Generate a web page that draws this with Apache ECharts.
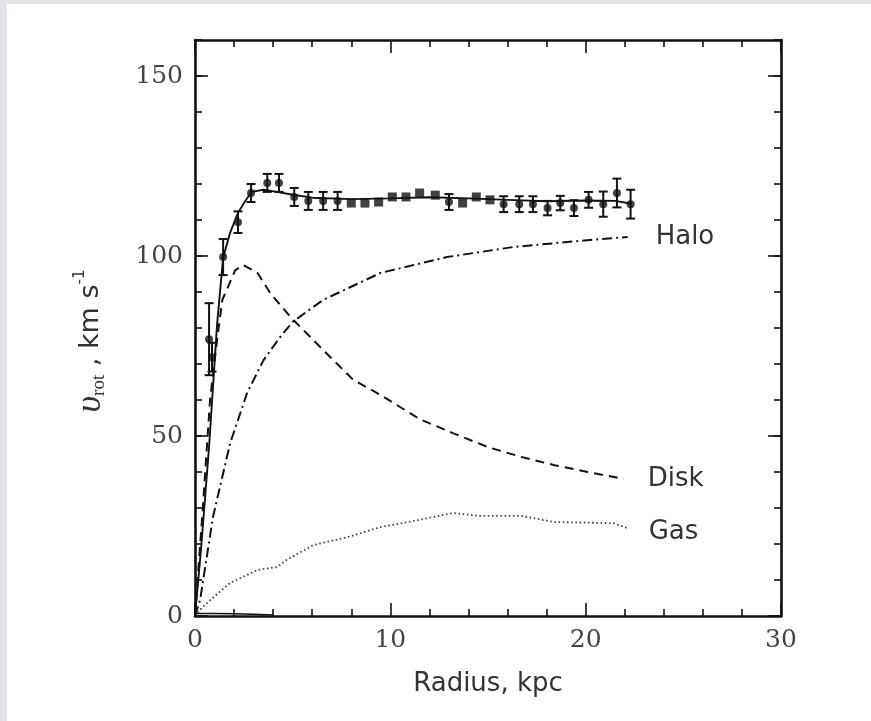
<!DOCTYPE html>
<html>
<head>
<meta charset="utf-8">
<script src="https://cdn.jsdelivr.net/npm/echarts@6/dist/echarts.min.js"></script>
<style>
html,body{margin:0;padding:0;background:#fff;}
#chart{width:871px;height:721px;}
</style>
</head>
<body>
<div id="chart"></div>
<script>
// ---- Data ----
var xTicks = [0, 10, 20, 30];
var yTicks = [0, 50, 100, 150];

// Observed rotation velocities (kpc, km/s, error; null error = square marker)
var obsR   = [0.72, 0.87, 1.44, 2.2, 2.87, 3.7, 4.3, 5.08, 5.8, 6.56, 7.3, 8.0, 8.7, 9.4, 10.1, 10.8, 11.5, 12.3, 13.0, 13.7, 14.4, 15.1, 15.8, 16.6, 17.3, 18.05, 18.7, 19.4, 20.15, 20.9, 21.6, 22.3];
var obsV   = [76.9, 71.9, 99.7, 109.4, 117.5, 120.3, 120.3, 116.4, 115.3, 115.3, 115.3, 114.7, 114.7, 115.0, 116.4, 116.4, 117.5, 116.9, 115.0, 114.7, 116.4, 115.6, 114.4, 114.4, 114.4, 113.3, 114.7, 113.3, 115.6, 114.4, 117.5, 114.4];
var obsErr = [10, 4, 5, 3, 2.5, 2.5, 2.5, 2.5, 2.5, 2.5, 2.5, null, null, null, null, null, null, null, 2.2, null, null, null, 2.2, 2.2, 2.2, 2, 2, 2.2, 2.2, 3.5, 4, 4];

// Model fit (solid)
var fitR = [0, 0.3, 0.72, 1.13, 1.44, 1.8, 2.2, 2.6, 2.9, 3.5, 4.2, 5.0, 6, 8, 10, 12, 14, 16, 18, 20, 21.5, 22.3];
var fitV = [0, 18, 47, 81, 99.5, 106.5, 112, 115.5, 117.8, 118.4, 117.8, 117, 116.2, 115.8, 116, 116.3, 116, 115.6, 115.2, 115.4, 115.3, 114.6];

// Disk (dashed)
var diskR = [0, 0.4, 0.77, 1.13, 1.4, 2.05, 2.46, 3.2, 3.85, 4.9, 6.56, 8.1, 9.5, 11.5, 13.2, 15.0, 16.7, 18.4, 20.1, 21.95];
var diskV = [0, 30, 60, 76.7, 87.8, 96, 97.5, 95.3, 89.7, 83, 73.9, 65.6, 61.4, 54.7, 50.8, 46.9, 44.2, 41.9, 40, 38.1];

// Halo (dash-dot)
var haloR = [0, 0.26, 0.92, 1.8, 2.67, 3.5, 4.36, 5.0, 6.56, 9.5, 12.9, 16.3, 19.7, 22.15];
var haloV = [0, 4.4, 27.5, 48, 62, 71, 77.5, 81.7, 87.8, 95.3, 99.7, 102.5, 104.2, 105.3];

// Gas (dotted)
var gasR = [0, 0.26, 0.77, 1.8, 3.2, 4.2, 4.7, 6.05, 7.8, 9.5, 11.2, 13.2, 14.6, 16.7, 18.4, 21.4, 22.15];
var gasV = [0, 1.7, 4.4, 9.2, 12.8, 13.6, 15.6, 19.7, 21.9, 24.7, 26.4, 28.6, 27.8, 27.8, 26.1, 25.8, 24.4];

// Near-zero component along the baseline
var bulgeR = [0, 1, 2, 3, 4];
var bulgeV = [0.7, 0.7, 0.6, 0.5, 0.3];

// ---- Build series data ----
function pairs(xs, ys){ return xs.map(function(x,i){ return [x, ys[i]]; }); }
var circles = [], squares = [], errs = [];
obsR.forEach(function(r, i){
  if (obsErr[i] == null) { squares.push([r, obsV[i]]); }
  else { circles.push([r, obsV[i]]); errs.push([r, obsV[i] - obsErr[i], obsV[i] + obsErr[i]]); }
});

var ink = '#111';
var textCol = '#333';
var tickFont = 'DejaVu Serif';

var chart = echarts.init(document.getElementById('chart'), null, {renderer: 'canvas'});

function yAxisBase(pos, major, labels){
  return {
    type: 'value', position: pos, min: 0, max: 160,
    interval: major ? 50 : 10,
    axisLine: { show: major, onZero: false, lineStyle: { color: ink, width: 2.6 } },
    axisTick: { show: true, inside: true, length: major ? 13 : 7,
                customValues: major ? yTicks : undefined,
                lineStyle: { color: ink, width: 1.6 } },
    axisLabel: labels ? { show: true, customValues: yTicks, margin: 12,
                fontFamily: tickFont, fontSize: 25, color: '#444' } : { show: false },
    splitLine: { show: false }
  };
}
function xAxisBase(pos, labels){
  return {
    type: 'value', position: pos, min: 0, max: 30, interval: 10,
    axisLine: { show: true, onZero: false, lineStyle: { color: ink, width: 2.6 } },
    axisTick: { show: true, inside: true, length: 13, lineStyle: { color: ink, width: 1.6 } },
    minorTick: { show: true, splitNumber: 5, length: 7, lineStyle: { color: ink, width: 1.6 } },
    axisLabel: labels ? { show: true, customValues: xTicks, margin: 12, fontFamily: tickFont, fontSize: 25, color: '#444' } : { show: false },
    splitLine: { show: false }
  };
}

var xBottom = xAxisBase('bottom', true);
xBottom.name = 'Radius, kpc';
xBottom.nameLocation = 'middle';
xBottom.nameGap = 55;
xBottom.nameTextStyle = { fontFamily: 'DejaVu Sans', fontSize: 26, color: textCol };

var yLeft = yAxisBase('left', true, true);
yLeft.name = '{u|υ}{sub|rot}{t| , km s}{sup|-1}';
yLeft.nameLocation = 'middle';
yLeft.nameRotate = 90;
yLeft.nameGap = 86;
yLeft.nameTextStyle = {
  padding: [0, 26, 0, 0],
  rich: {
    u: { fontFamily: 'Liberation Serif', fontStyle: 'italic', fontSize: 36, color: textCol, lineHeight: 36, verticalAlign: 'middle' },
    sub: { fontFamily: 'Liberation Serif', fontSize: 19, color: textCol, lineHeight: 36, verticalAlign: 'bottom' },
    t: { fontFamily: 'DejaVu Sans', fontSize: 27, color: textCol, lineHeight: 36, verticalAlign: 'middle' },
    sup: { fontFamily: 'DejaVu Sans', fontSize: 15, color: textCol, lineHeight: 36, verticalAlign: 'top' }
  }
};

var lineBase = function(name, data, type, width, color, label, offset){
  var s = {
    name: name, type: 'line', data: data, symbol: 'none', smooth: false,
    xAxisIndex: 0, yAxisIndex: 0, clip: false,
    lineStyle: { color: color, width: width, type: type },
    z: 3, animation: false
  };
  if (label) {
    s.endLabel = { show: true, formatter: label, distance: 26, offset: offset || [0, 0],
      fontFamily: 'DejaVu Sans', fontSize: 26, color: textCol };
  }
  return s;
};

var option = {
  animation: false,
  backgroundColor: '#ffffff',
  grid: { left: 195, right: 90, top: 40, bottom: 105, containLabel: false },
  xAxis: [ xBottom, xAxisBase('top', false) ],
  yAxis: [ yLeft, yAxisBase('left', false, false), yAxisBase('right', true, false), yAxisBase('right', false, false) ],
  graphic: [
    { type: 'rect', left: 0, top: 0, shape: { width: 871, height: 4 }, style: { fill: '#e3e1e6' }, z: -10 },
    { type: 'rect', left: 0, top: 0, shape: { width: 7, height: 721 }, style: { fill: '#e3e1e6' }, z: -10 }
  ],
  series: [
    lineBase('Halo', pairs(haloR, haloV), [10, 4, 2, 4], 2, ink, 'Halo', [2, 0]),
    lineBase('Disk', pairs(diskR, diskV), [9, 6], 2, ink, 'Disk', [-2, 0]),
    lineBase('Gas', pairs(gasR, gasV), [1.6, 2.6], 1.8, '#444', 'Gas', [-5, 4]),
    lineBase('Bulge', pairs(bulgeR, bulgeV), 'solid', 1.5, ink, null),
    lineBase('Fit', pairs(fitR, fitV), 'solid', 1.9, ink, null),
    {
      name: 'Errors', type: 'custom', data: errs, xAxisIndex: 0, yAxisIndex: 0, z: 4,
      encode: { x: 0, y: [1, 2] },
      renderItem: function(params, api){
        var x = api.value(0), lo = api.value(1), hi = api.value(2);
        var p1 = api.coord([x, hi]), p2 = api.coord([x, lo]);
        var w = 4.5;
        var st = { stroke: ink, lineWidth: 2 };
        return { type: 'group', children: [
          { type: 'line', shape: { x1: p1[0], y1: p1[1], x2: p2[0], y2: p2[1] }, style: st },
          { type: 'line', shape: { x1: p1[0]-w, y1: p1[1], x2: p1[0]+w, y2: p1[1] }, style: st },
          { type: 'line', shape: { x1: p2[0]-w, y1: p2[1], x2: p2[0]+w, y2: p2[1] }, style: st }
        ]};
      }
    },
    { name: 'Obs circles', type: 'scatter', data: circles, symbol: 'circle', symbolSize: 8,
      itemStyle: { color: ink }, z: 5, xAxisIndex: 0, yAxisIndex: 0 },
    { name: 'Obs squares', type: 'scatter', data: squares, symbol: 'rect', symbolSize: 9,
      itemStyle: { color: ink }, z: 5, xAxisIndex: 0, yAxisIndex: 0 }
  ]
};
chart.setOption(option);
</script>
</body>
</html>
